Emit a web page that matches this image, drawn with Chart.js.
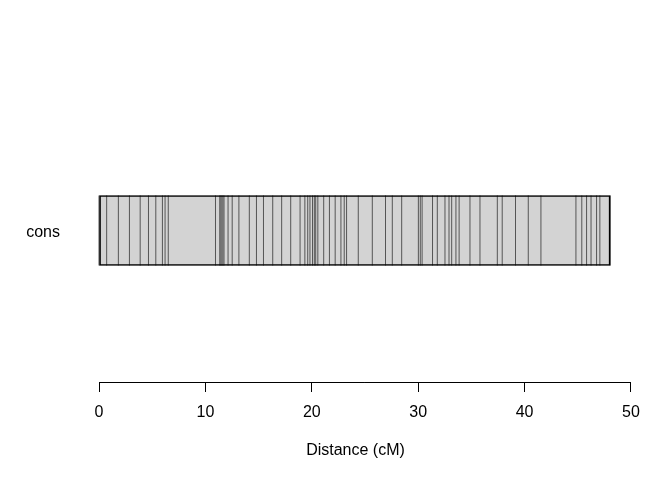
<!DOCTYPE html>
<html>
<head>
<meta charset="utf-8">
<script src="https://cdn.jsdelivr.net/npm/chart.js@4"></script>
<style>
  html, body { margin: 0; padding: 0; background: #fff; }
  #wrap { width: 672px; height: 480px; }
</style>
</head>
<body>
<div id="wrap"><canvas id="chart" width="672" height="480"></canvas></div>
<script>
const groups = ["cons"]
const groupLength = [48.05]
// marker positions (cM)
const markers = [
  0, 0.72, 1.82, 2.86, 3.87, 4.65, 5.34, 5.96, 6.21, 6.51,
  10.95, 11.35, 11.45, 11.55, 11.65, 11.75, 12.13, 12.52, 13.15, 14.13,
  14.8, 15.46, 16.33, 17.17, 18.02, 18.9, 19.35, 19.62, 19.83, 20.07,
  20.24, 20.37, 20.57, 21.12, 21.66, 22.2, 22.74, 23.05, 23.27, 24.37,
  25.69, 26.93, 27.57, 28.45, 30.02, 30.2, 30.37, 31.35, 31.8, 32.52,
  32.9, 33.15, 33.55, 33.85, 34.87, 35.81, 37.44, 37.9, 39.15, 40.35,
  41.54, 44.83, 45.38, 45.83, 46.25, 46.77, 47.08, 48.05,
]
const xTicks = [0, 10, 20, 30, 40, 50]
const xTitle = "Distance (cM)"

const font = { family: "'Liberation Sans', Arial, sans-serif", size: 16 }

// axis line only from first to last tick, like base R
const axisLine = {
  id: "axisLine",
  afterDraw(chart) {
    const { ctx, scales: { x } } = chart
    const y = Math.round(x.top) + 0.5
    ctx.save()
    ctx.strokeStyle = "#000"
    ctx.lineWidth = 1
    ctx.beginPath()
    ctx.moveTo(x.getPixelForValue(xTicks[0]), y)
    ctx.lineTo(x.getPixelForValue(xTicks[xTicks.length - 1]), y)
    ctx.stroke()
    ctx.restore()
  },
}

const barStyle = { borderSkipped: false, barThickness: 70, grouped: false }

new Chart(document.getElementById("chart"), {
  type: "bar",
  data: {
    labels: groups,
    datasets: [
      // black outline on top of the markers
      {
        data: groupLength.map((len) => [0, len]),
        backgroundColor: "rgba(0,0,0,0)",
        borderColor: "#000",
        borderWidth: 1,
        ...barStyle,
        order: -1,
      },
      {
        type: "scatter",
        data: markers.map((m) => ({ x: m, y: groups[0] })),
        pointStyle: "line",
        rotation: 90,
        radius: 35,
        borderColor: "#555",
        borderWidth: 1,
        order: 0,
      },
      {
        data: groupLength.map((len) => [0, len]),
        backgroundColor: "#d3d3d3",
        borderWidth: 0,
        ...barStyle,
        order: 1,
      },
    ],
  },
  options: {
    indexAxis: "y",
    responsive: false,
    animation: false,
    layout: { padding: { top: 79, left: 26, right: 40, bottom: 0 } },
    plugins: { legend: { display: false }, tooltip: { enabled: false } },
    scales: {
      x: {
        type: "linear",
        min: -1.88,
        max: 50.1,
        afterBuildTicks: (s) => { s.ticks = xTicks.map((v) => ({ value: v })) },
        afterFit: (s) => { s.height = 98 },
        border: { display: false },
        grid: { drawOnChartArea: false, drawTicks: true, tickLength: 10, color: "#000" },
        ticks: { color: "#000", font, padding: 11, maxRotation: 0 },
        title: { display: true, text: xTitle, color: "#000", font, padding: { top: 0, bottom: 20 } },
      },
      y: {
        type: "category",
        afterFit: (s) => { s.width = 53 },
        border: { display: false },
        grid: { display: false, drawTicks: false },
        ticks: { color: "#000", font, padding: 19, labelOffset: 2 },
      },
    },
  },
  plugins: [axisLine],
})
</script>
</body>
</html>
